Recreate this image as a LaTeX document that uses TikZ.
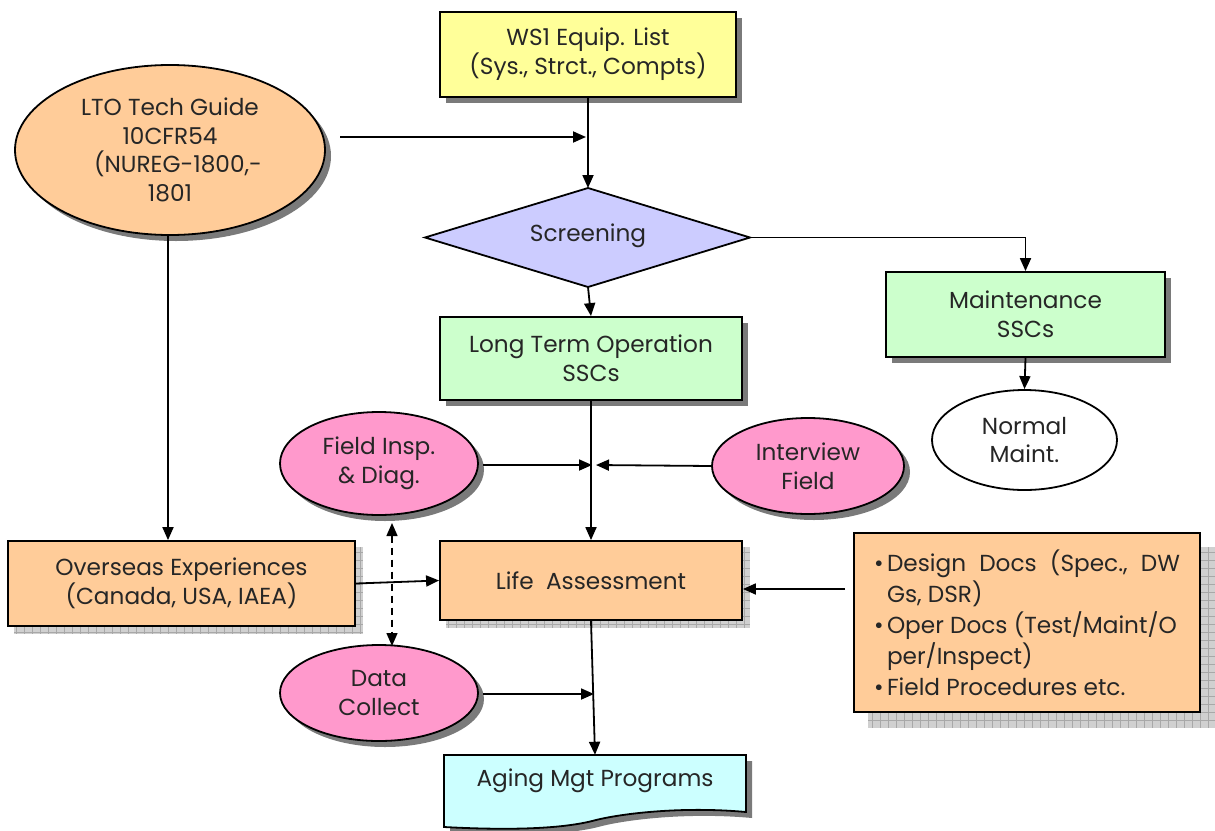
\documentclass[tikz,border=0pt]{standalone}
\usepackage{fontspec}
\setmainfont{Poppins}
\usetikzlibrary{arrows.meta,shapes.geometric,shadows,backgrounds,calc}
\definecolor{cyel}{HTML}{FFFF99}
\definecolor{cpeach}{HTML}{FFCC99}
\definecolor{clav}{HTML}{CCCCFF}
\definecolor{cgreen}{HTML}{CCFFCC}
\definecolor{cpink}{HTML}{FF99CC}
\definecolor{ccyan}{HTML}{CCFFFF}
\definecolor{cshadow}{HTML}{7A7A7A}
\definecolor{cgridbg}{HTML}{D0D0D0}
\definecolor{cgridln}{HTML}{A8A8A8}
\newcommand{\gshad}[3]{%
  \begin{scope}[on background layer]
    \begin{scope}
      \clip ([shift={(#2,#3)}]#1.north west) rectangle ([shift={(#2,#3)}]#1.south east);
      \fill[cgridbg] ([shift={(#2,#3)}]#1.north west) rectangle ([shift={(#2,#3)}]#1.south east);
      \draw[cgridln,line width=0.6pt,step=8pt] ([shift={(#2-10,#3-10)}]#1.north west) grid ([shift={(#2+10,#3+10)}]#1.south east);
    \end{scope}
  \end{scope}}
\begin{document}
\begin{tikzpicture}[x=1pt,y=-1pt,
  font=\fontsize{23.2}{28.8}\selectfont,
  txt/.style={text=black!85},
  box/.style={draw=black,line width=1.8pt,rectangle,inner sep=2pt,align=center,txt},
  oval/.style={draw=black,line width=1.8pt,ellipse,inner sep=0pt,align=center,txt},
  sshad/.style={drop shadow={shadow xshift=6pt,shadow yshift=-6pt,fill=cshadow,opacity=1}},
  arr/.style={line width=1.8pt,-{Triangle[length=13pt,width=11pt]}},
  ln/.style={line width=1.8pt}]
\useasboundingbox (0,0) rectangle (1215,830);

% nodes
\node[box,sshad,fill=cyel,minimum width=296pt,minimum height=85pt] (ws1) at (588,54.5) {WS1 Equip. List\\(Sys., Strct., Compts)};
\node[oval,sshad,fill=cpeach,minimum width=310pt,minimum height=170pt] (lto) at (170,150) {LTO Tech Guide\\10CFR54\\\hspace*{16pt}(NUREG-1800,-\\1801};

% screening diamond
\coordinate (scrN) at (588,188);
\coordinate (scrS) at (588,287);
\coordinate (scrE) at (750,237.5);
\coordinate (scrW) at (425,237.5);
\filldraw[fill=clav,draw=black,line width=1.8pt] (scrN) -- (scrE) -- (scrS) -- (scrW) -- cycle;
\node[txt] (scr) at (588,236) {Screening};

\node[box,sshad,fill=cgreen,minimum width=279pt,minimum height=85pt] (maint) at (1025.5,314.5) {Maintenance\\SSCs};
\node[oval,fill=white,minimum width=185pt,minimum height=100pt] (norm) at (1024.5,440) {Normal\\Maint.};
\node[box,sshad,fill=cgreen,minimum width=302pt,minimum height=83pt] (ltos) at (591,358.5) {Long Term Operation\\SSCs};
\node[oval,sshad,fill=cpink,minimum width=198pt,minimum height=103pt] (field) at (379,463.5) {Field Insp.\\\& Diag.};
\node[oval,sshad,fill=cpink,minimum width=192pt,minimum height=96pt] (intv) at (808,466) {Interview\\Field};
\node[box,fill=cpeach,minimum width=347pt,minimum height=85pt] (ovs) at (181.5,583.5) {Overseas Experiences\\(Canada, USA, IAEA)};
\node[box,fill=cpeach,minimum width=302pt,minimum height=79pt] (life) at (591,580.5) {Life\ \ Assessment};
\node[box,fill=cpeach,minimum width=346pt,minimum height=179pt,align=left,font=\fontsize{23.2}{31}\selectfont] (docs) at (1027,622.5) {%
  \makebox[13pt][l]{•}\makebox[293pt][s]{Design\hfill Docs\hfill (Spec.,\hfill DW}\\
  \hspace*{13pt}Gs, DSR)\\
  \makebox[13pt][l]{•}Oper Docs (Test/Maint/O\\
  \hspace*{13pt}per/Inspect)\\
  \makebox[13pt][l]{•}Field Procedures etc.};
\node[oval,sshad,fill=cpink,minimum width=198pt,minimum height=96pt] (data) at (379,693) {Data\\Collect};
\node[txt,minimum width=302pt,minimum height=52pt,inner sep=0pt] (aging) at (595,781) {};

% shadows (grid)
\gshad{ovs}{7}{7}
\gshad{life}{7}{7}
\gshad{docs}{15}{15}

% aging document shape
\begin{scope}[on background layer]
  \fill[cshadow,shift={(6,6)}] (444,755) -- (746,755) -- (746,812) .. controls (680,806) and (620,814) .. (596,820) .. controls (560,830) and (500,830) .. (444,827) -- cycle;
  \filldraw[fill=ccyan,draw=black,line width=1.8pt] (444,755) -- (746,755) -- (746,812) .. controls (680,806) and (620,814) .. (596,820) .. controls (560,830) and (500,830) .. (444,827) -- cycle;
\end{scope}
\node[txt] at (aging) {Aging Mgt Programs};

% connectors
\coordinate (ltoR) at (340,137);
\coordinate (j1) at (586,137);
\draw[arr] (ltoR) -- (j1);
\draw[arr] (ws1.south) -- (scrN);
\draw[arr] (scrE) -| (maint.north);
\draw[arr] (maint.south) -- (norm.north);
\draw[arr] (scrS) -- (ltos.north);
\draw[arr] (ltos.south) -- (life.north);
\coordinate (jL) at (592,465);
\coordinate (jR) at (596,465);
\coordinate (fieldR) at (483,465);
\draw[arr] (fieldR) -- (jL);
\draw[arr] (intv.west) -- (jR);
\draw[arr] (lto.south -| 168,0) -- (168,0 |- ovs.north);
\draw[arr] (ovs.east) -- (life.west);
\coordinate (dsh1) at (392,523);
\coordinate (dsh2) at (392,646);
\draw[line width=1.4pt,dash pattern=on 7pt off 5pt,{Triangle[length=13pt,width=11pt]}-{Triangle[length=13pt,width=11pt]}] (dsh1) -- (dsh2);
\coordinate (docsL) at (845,589);
\draw[arr] (docsL) -- (docsL -| life.east);
\coordinate (dataR) at (483,694);
\coordinate (jD) at (594,694);
\draw[arr] (dataR) -- (jD);
\draw[arr] (life.south) -- (aging.north);
\end{tikzpicture}
\end{document}
